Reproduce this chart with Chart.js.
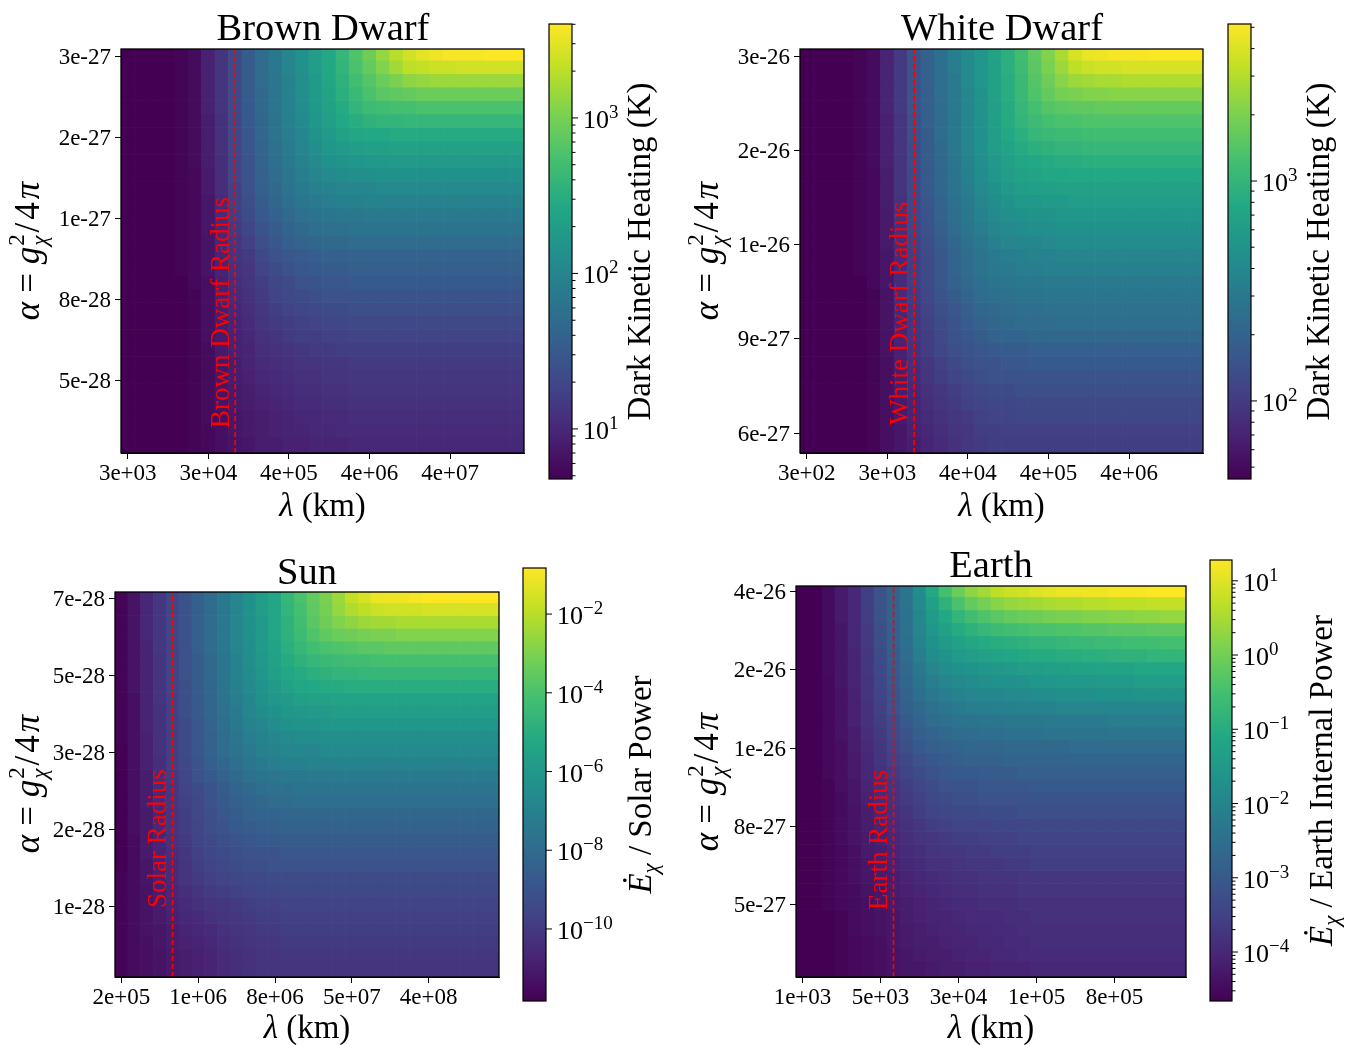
<!DOCTYPE html>
<html>
<head>
<meta charset="utf-8">
<title>Dark heating maps</title>
<script src="https://cdn.jsdelivr.net/npm/chart.js@4"></script>
<style>
  html, body { margin: 0; background: #fff; }
  canvas { position: absolute; }
</style>
</head>
<body>
<script>
// every cell is read off the picture as its height on the log colour bar (0 = bottom, 100 = top)
// rows run top to bottom, columns left to right
var brownHeat = [
[0,0,0,0,1,3,9,15,22,29,35,40,45,50,55,60,66,72,78,84,89,93,96,98,99,99,99,100,100,100],
[0,0,0,0,1,3,9,15,22,29,35,40,45,50,55,60,65,71,76,81,86,90,91,92,92,93,93,93,93,93],
[0,0,0,0,1,3,9,15,22,29,35,39,44,49,54,59,64,69,73,77,80,83,84,85,85,85,85,85,85,85],
[0,0,0,0,1,3,9,15,22,29,34,39,44,49,54,58,63,67,71,74,75,76,77,77,77,77,77,77,77,77],
[0,0,0,0,1,3,9,15,22,28,34,39,43,48,53,57,61,65,68,69,70,70,71,71,71,71,71,71,71,71],
[0,0,0,0,1,3,8,14,21,28,33,38,43,47,52,56,60,62,64,65,65,66,66,66,66,66,66,66,66,66],
[0,0,0,0,1,3,8,14,21,27,33,38,42,46,51,54,57,59,60,60,61,61,61,61,61,61,61,61,61,61],
[0,0,0,0,1,3,8,14,21,27,32,37,41,45,49,52,54,55,56,56,57,57,57,57,57,57,57,57,57,57],
[0,0,0,0,1,3,8,13,20,26,32,36,40,44,47,50,51,52,53,53,54,54,54,54,54,54,54,54,54,54],
[0,0,0,0,1,2,7,13,20,26,31,35,39,42,45,47,48,49,49,50,50,50,50,50,50,50,50,50,50,50],
[0,0,0,0,1,2,7,13,19,25,30,34,38,41,43,44,45,46,46,47,47,47,47,47,47,47,47,47,47,47],
[0,0,0,0,1,2,6,12,19,24,29,33,36,39,41,42,43,43,44,44,44,44,44,44,44,44,44,44,44,44],
[0,0,0,0,1,2,6,12,18,23,28,31,34,37,38,39,40,40,41,41,41,41,41,41,41,41,41,41,41,41],
[0,0,0,0,1,2,6,11,17,21,26,29,32,34,36,37,37,38,38,38,38,38,38,38,38,38,38,38,38,38],
[0,0,0,0,1,2,5,11,16,19,24,27,30,32,33,34,34,35,35,35,35,35,35,35,35,35,35,35,35,35],
[0,0,0,0,1,2,5,10,15,17,22,25,27,29,30,31,31,32,32,32,32,32,32,32,32,32,32,32,32,32],
[0,0,0,0,1,2,5,10,14,16,20,23,25,27,28,29,29,30,30,30,30,30,30,30,30,30,30,30,30,30],
[0,0,0,0,0,2,4,9,13,15,18,21,23,25,26,27,27,28,28,28,28,28,28,28,28,28,28,28,28,28],
[0,0,0,0,0,1,4,9,12,14,17,20,22,23,24,25,25,26,26,26,26,26,26,26,26,26,26,26,26,26],
[0,0,0,0,0,1,4,8,11,13,16,18,20,21,22,23,23,24,24,24,24,24,24,24,24,24,24,24,24,24],
[0,0,0,0,0,1,4,8,10,12,15,17,18,19,20,21,21,22,22,22,22,22,22,22,22,22,22,22,22,22],
[0,0,0,0,0,1,4,7,9,11,14,15,17,18,18,19,19,20,20,20,20,20,20,20,20,20,20,20,20,20],
[0,0,0,0,0,1,3,7,9,10,13,14,15,16,17,17,18,18,18,18,18,18,18,18,18,18,18,18,18,18],
[0,0,0,0,0,1,3,6,8,10,12,13,14,15,15,16,16,17,17,17,17,17,17,17,17,17,17,17,17,17],
[0,0,0,0,0,1,3,6,8,9,11,12,13,14,14,15,15,16,16,16,16,16,16,16,16,16,16,16,16,16],
[0,0,0,0,0,1,3,5,7,8,10,11,12,13,13,14,14,15,15,15,15,15,15,15,15,15,15,15,15,15],
[0,0,0,0,0,1,3,5,7,8,9,10,11,12,12,13,13,14,14,14,14,14,14,14,14,14,14,14,14,14],
[0,0,0,0,0,1,3,4,6,7,8,9,10,11,11,12,12,13,13,13,13,13,13,13,13,13,13,13,13,13],
[0,0,0,0,0,1,2,4,6,7,8,9,10,10,11,11,12,12,12,12,12,12,12,12,12,12,12,12,12,12],
[0,0,0,0,0,1,2,4,5,6,8,8,9,9,10,10,10,11,11,11,11,11,11,11,11,11,11,11,11,11]
];
var whiteHeat = [
[0,0,0,0,1,3,10,17,26,31,36,42,47,52,58,63,69,75,81,87,94,97,98,99,99,99,100,100,100,100],
[0,0,0,0,1,3,10,17,25,31,36,42,47,52,57,63,68,74,80,85,90,92,93,93,94,94,94,94,94,94],
[0,0,0,0,1,3,10,17,25,31,36,41,47,52,57,62,67,73,78,82,85,86,87,87,88,88,88,88,88,88],
[0,0,0,0,1,3,10,17,25,30,36,41,46,51,57,62,67,72,76,79,80,81,81,82,82,82,82,82,82,82],
[0,0,0,0,1,3,10,17,25,30,35,41,46,51,56,61,66,70,73,74,75,75,76,76,76,76,76,76,76,76],
[0,0,0,0,1,3,9,16,24,30,35,40,46,51,56,61,65,68,70,71,71,72,72,72,72,72,72,72,72,72],
[0,0,0,0,1,3,9,16,24,29,35,40,45,50,55,60,63,66,67,68,68,69,69,69,69,69,69,69,69,69],
[0,0,0,0,1,3,9,16,23,29,34,40,45,50,55,58,61,63,64,65,65,66,66,66,66,66,66,66,66,66],
[0,0,0,0,1,3,9,15,23,29,34,39,44,49,53,56,59,60,61,62,62,63,63,63,63,63,63,63,63,63],
[0,0,0,0,1,2,8,15,22,28,33,38,43,48,52,55,57,58,59,59,60,60,60,60,60,60,60,60,60,60],
[0,0,0,0,1,2,8,15,22,28,33,38,42,47,50,53,55,56,56,57,57,57,57,57,57,57,57,57,57,57],
[0,0,0,0,1,2,8,14,21,27,32,37,41,45,48,51,53,53,54,54,55,55,55,55,55,55,55,55,55,55],
[0,0,0,0,1,2,7,14,21,26,31,36,40,44,47,49,50,51,51,52,52,52,52,52,52,52,52,52,52,52],
[0,0,0,0,1,2,7,13,20,25,30,35,39,42,45,47,48,49,49,50,50,50,50,50,50,50,50,50,50,50],
[0,0,0,0,1,2,7,13,19,24,29,33,37,40,43,45,46,46,47,48,48,48,48,48,48,48,48,48,48,48],
[0,0,0,0,1,2,6,12,18,23,27,32,35,38,41,42,43,44,44,45,45,45,45,45,45,45,45,45,45,45],
[0,0,0,0,1,2,6,12,18,23,27,32,35,38,40,41,42,42,43,43,43,43,43,43,43,43,43,43,43,43],
[0,0,0,0,0,2,6,12,18,23,27,31,34,36,38,39,40,40,41,41,41,41,41,41,41,41,41,41,41,41],
[0,0,0,0,0,1,5,12,17,21,25,29,32,35,36,37,38,38,39,39,39,39,39,39,39,39,39,39,39,39],
[0,0,0,0,0,1,5,11,16,20,24,27,30,33,34,35,36,36,37,37,37,37,37,37,37,37,37,37,37,37],
[0,0,0,0,0,1,5,10,15,19,23,26,29,31,33,34,35,35,35,36,36,36,36,36,36,36,36,36,36,36],
[0,0,0,0,0,1,5,10,15,18,22,25,27,29,31,32,32,33,33,33,33,33,33,33,33,33,33,33,33,33],
[0,0,0,0,0,1,5,9,14,18,21,24,26,27,28,29,29,30,30,30,30,30,30,30,30,30,30,30,30,30],
[0,0,0,0,0,1,4,9,13,16,19,22,24,25,26,27,27,28,28,28,28,28,28,28,28,28,28,28,28,28],
[0,0,0,0,0,1,4,8,12,15,18,20,22,24,25,25,26,26,26,26,26,26,26,26,26,26,26,26,26,26],
[0,0,0,0,0,1,4,8,11,14,16,18,20,22,23,23,24,24,24,24,24,24,24,24,24,24,24,24,24,24],
[0,0,0,0,0,1,4,7,10,13,15,17,19,20,21,21,22,22,22,22,22,22,22,22,22,22,22,22,22,22],
[0,0,0,0,0,1,4,7,10,12,14,16,17,19,20,20,21,21,21,21,21,21,21,21,21,21,21,21,21,21],
[0,0,0,0,0,1,4,6,9,11,13,15,16,18,18,19,19,19,19,19,19,19,19,19,19,19,19,19,19,19],
[0,0,0,0,0,1,4,6,8,10,12,14,16,17,18,18,18,18,18,18,18,18,18,18,18,18,18,18,18,18]
];
var sunHeat = [
[1,5,11,16,21,26,30,35,40,45,50,55,59,66,71,76,80,85,91,94,97,98,98,99,100,100,100,100,100,100],
[1,5,11,16,21,26,30,35,40,45,50,55,59,65,70,75,79,84,88,90,92,93,93,93,94,94,94,94,94,94],
[1,5,11,16,21,26,30,35,40,45,50,54,59,64,69,74,78,81,83,85,86,86,87,87,87,87,87,87,87,87],
[1,5,11,16,21,25,30,35,40,45,50,54,59,64,68,72,75,77,78,79,80,80,81,81,81,81,81,81,81,81],
[1,5,10,16,20,25,30,35,40,45,49,54,58,63,66,69,71,72,73,74,74,75,75,75,75,75,75,75,75,75],
[1,5,10,15,20,25,29,34,39,44,49,53,57,61,64,66,67,68,69,69,70,70,70,70,70,70,70,70,70,70],
[1,5,10,15,20,25,29,34,39,44,48,52,56,59,61,63,64,65,65,66,66,66,66,66,66,66,66,66,66,66],
[1,5,10,15,20,24,29,33,38,43,47,51,54,57,59,60,61,61,62,62,62,62,62,62,62,62,62,62,62,62],
[1,4,10,15,19,24,28,33,38,42,46,50,52,54,56,57,57,58,58,58,58,58,58,58,58,58,58,58,58,58],
[1,4,10,14,19,24,28,33,37,41,45,48,50,52,53,54,54,55,55,55,55,55,55,55,55,55,55,55,55,55],
[1,4,10,14,19,23,27,32,36,40,44,46,48,50,51,51,52,52,52,52,52,52,52,52,52,52,52,52,52,52],
[1,4,9,14,18,23,27,31,35,39,42,44,46,47,48,48,49,49,49,49,49,49,49,49,49,49,49,49,49,49],
[0,4,9,14,18,23,27,31,35,38,41,43,44,45,46,46,47,47,47,47,47,47,47,47,47,47,47,47,47,47],
[0,4,9,13,18,22,26,30,33,36,39,41,42,43,43,44,44,44,44,44,44,44,44,44,44,44,44,44,44,44],
[0,4,8,13,17,21,25,28,31,34,37,38,39,40,40,41,41,41,41,41,41,41,41,41,41,41,41,41,41,41],
[0,4,8,12,16,20,23,26,29,32,34,36,37,37,38,38,38,38,38,38,38,38,38,38,38,38,38,38,38,38],
[0,4,8,12,16,19,22,25,28,30,32,34,35,35,36,36,36,36,36,36,36,36,36,36,36,36,36,36,36,36],
[0,4,7,11,15,18,22,24,27,29,31,32,32,33,33,33,33,33,33,33,33,33,33,33,33,33,33,33,33,33],
[0,4,7,11,15,18,21,24,26,28,29,30,30,31,31,31,31,31,31,31,31,31,31,31,31,31,31,31,31,31],
[0,3,7,10,14,17,20,22,24,26,27,28,28,29,29,29,29,29,29,29,29,29,29,29,29,29,29,29,29,29],
[0,3,7,10,13,16,19,21,23,24,25,26,26,27,27,27,27,27,27,27,27,27,27,27,27,27,27,27,27,27],
[0,3,6,9,12,15,18,20,22,23,24,24,25,25,25,25,25,25,25,25,25,25,25,25,25,25,25,25,25,25],
[1,3,6,9,12,15,17,19,20,21,22,22,23,23,23,23,23,23,23,23,23,23,23,23,23,23,23,23,23,23],
[1,3,5,8,11,13,15,17,18,19,20,21,21,22,22,22,22,22,22,22,22,22,22,22,22,22,22,22,22,22],
[1,3,5,7,10,12,14,15,16,17,18,19,19,20,20,20,20,20,20,20,20,20,20,20,20,20,20,20,20,20],
[1,3,5,7,9,11,12,14,15,16,17,18,18,19,19,19,19,19,19,19,19,19,19,19,19,19,19,19,19,19],
[1,3,5,6,8,10,11,12,14,15,16,17,17,18,18,18,18,18,18,18,18,18,18,18,18,18,18,18,18,18],
[1,3,4,6,8,9,10,11,13,14,15,16,16,17,17,17,17,17,17,17,17,17,17,17,17,17,17,17,17,17],
[1,3,4,5,7,8,9,10,12,13,14,15,15,16,16,16,16,16,16,16,16,16,16,16,16,16,16,16,16,16],
[1,3,4,5,7,8,9,10,12,13,14,15,15,15,15,15,15,15,15,15,15,15,15,15,15,15,15,15,15,15]
];
var earthHeat = [
[0,0,3,7,11,18,25,31,38,48,60,70,77,83,86,90,92,93,95,96,97,97,98,98,99,99,99,100,100,100],
[0,0,3,7,11,18,25,31,38,47,56,64,71,76,79,82,84,85,86,87,88,88,89,89,90,90,90,91,91,91],
[0,0,3,7,11,18,25,31,37,46,54,60,65,69,72,74,76,77,78,79,80,80,81,81,82,82,83,83,84,84],
[0,0,3,6,11,17,24,30,37,45,52,57,61,64,66,68,69,70,71,71,72,72,73,73,74,74,74,75,75,75],
[0,0,3,6,11,17,24,30,36,44,50,54,57,59,61,62,63,64,65,65,66,67,67,68,68,69,69,69,70,70],
[0,0,3,6,10,16,23,29,35,42,48,51,54,55,57,58,59,60,61,61,62,62,63,63,64,64,64,65,65,65],
[0,0,3,6,10,16,22,28,34,40,45,48,50,51,52,53,54,55,55,56,56,57,57,58,58,58,59,59,59,59],
[0,0,2,6,10,15,21,27,33,38,42,45,47,48,49,50,50,51,52,52,53,53,53,54,54,54,55,55,55,55],
[0,0,2,5,9,15,20,26,31,36,40,42,44,45,46,46,47,47,48,48,49,49,49,50,50,50,51,51,51,51],
[0,0,2,5,9,14,19,25,30,34,37,39,41,42,42,43,43,44,44,44,45,45,45,45,46,46,46,46,46,46],
[0,0,2,5,9,14,18,23,28,32,35,36,38,38,39,39,40,40,40,41,41,41,41,41,42,42,42,42,42,42],
[0,0,2,5,8,13,17,22,26,30,32,34,35,35,36,36,37,37,37,38,38,38,38,38,39,39,39,39,39,39],
[0,0,2,4,8,12,16,20,24,28,30,31,32,33,33,33,34,34,34,34,34,35,35,35,35,35,35,35,35,35],
[0,0,2,4,7,11,15,19,22,25,27,29,30,31,31,31,32,32,32,32,32,32,32,32,32,32,32,32,32,32],
[0,0,2,4,7,11,14,17,20,23,25,27,28,28,29,29,29,30,30,30,30,30,30,30,30,30,30,30,30,30],
[0,0,1,4,6,10,13,15,18,21,23,25,26,26,27,27,27,27,28,28,28,28,28,28,28,28,28,28,28,28],
[0,0,1,3,6,9,12,14,17,19,22,23,24,24,25,25,25,26,26,26,26,26,26,26,26,26,26,26,26,26],
[0,0,1,3,5,8,11,13,15,18,20,21,22,22,23,23,23,24,24,24,24,24,24,24,24,24,24,24,24,24],
[0,0,1,3,5,8,10,12,14,16,18,19,20,20,20,21,21,21,22,22,22,22,22,22,22,22,22,22,22,22],
[0,0,1,3,5,7,9,11,13,15,16,17,18,18,19,19,19,20,20,20,20,20,20,20,20,20,20,20,20,20],
[0,0,1,2,4,7,8,10,12,13,15,16,16,17,17,18,18,18,19,19,19,19,19,19,19,19,19,19,19,19],
[0,0,1,2,4,6,8,9,11,12,14,14,15,16,16,16,17,17,18,18,18,18,18,18,18,18,18,18,18,18],
[0,0,1,2,4,6,7,8,10,11,12,13,14,14,15,15,15,16,16,16,16,16,16,16,16,16,16,16,16,16],
[0,0,1,2,3,5,6,8,9,10,11,12,13,13,14,14,14,15,15,15,15,15,15,15,15,15,15,15,15,15],
[0,0,1,2,3,4,6,7,8,9,10,11,12,12,13,13,13,14,14,14,14,14,14,14,14,14,14,14,14,14],
[0,0,0,1,3,4,5,6,8,9,10,10,11,12,12,12,13,13,14,14,14,14,14,14,14,14,14,14,14,14],
[0,0,0,1,3,4,5,6,7,8,9,10,10,11,11,12,12,13,13,13,13,13,13,13,13,13,13,13,13,13],
[0,0,0,1,2,3,4,6,7,8,8,9,10,10,11,11,12,12,13,13,13,13,13,13,13,13,13,13,13,13],
[0,0,0,1,2,3,4,5,6,7,8,8,9,10,10,11,11,12,12,12,12,12,12,12,12,12,12,12,12,12],
[0,0,0,1,2,3,4,5,6,6,7,8,8,9,9,10,10,10,11,11,11,11,11,11,11,11,11,11,11,11]
];

var brownXTicks = ['3e+03', '3e+04', '4e+05', '4e+06', '4e+07'];
var brownYTicks = ['5e-28', '8e-28', '1e-27', '2e-27', '3e-27'];
var brownYRows = [5.25, 11.25, 17.25, 23.25, 29.25];
var whiteXTicks = ['3e+02', '3e+03', '4e+04', '4e+05', '4e+06'];
var whiteYTicks = ['6e-27', '9e-27', '1e-26', '2e-26', '3e-26'];
var whiteYRows = [1.3, 8.3, 15.3, 22.3, 29.3];
var sunXTicks = ['2e+05', '1e+06', '8e+06', '5e+07', '4e+08'];
var sunYTicks = ['1e-28', '2e-28', '3e-28', '5e-28', '7e-28'];
var sunYRows = [5.3, 11.3, 17.3, 23.3, 29.3];
var earthXTicks = ['1e+03', '5e+03', '3e+04', '1e+05', '8e+05'];
var earthYTicks = ['5e-27', '8e-27', '1e-26', '2e-26', '4e-26'];
var earthYRows = [5.4, 11.4, 17.4, 23.4, 29.4];

// colour bar ranges as log10 of the ends, and the decades that get a label
var brownBar = [0.678, 3.604];
var brownDecades = [1, 2, 3];
var whiteBar = [1.645, 3.714];
var whiteDecades = [2, 3];
var sunBar = [-11.83, -0.83];
var sunDecades = [-10, -8, -6, -4, -2];
var earthBar = [-4.66, 1.28];
var earthDecades = [-4, -3, -2, -1, 0, 1];

var viridis = ['#440154', '#482475', '#414487', '#355f8d', '#2a788e', '#21918c', '#22a884', '#44bf70', '#7ad151', '#bddf26', '#fde725'];
var serif = '"Liberation Serif", serif';
var ROW_SHIFT = 0.17;

function hexRgb(h) {
  return [parseInt(h.substr(1, 2), 16), parseInt(h.substr(3, 2), 16), parseInt(h.substr(5, 2), 16)];
}
function heatColor(p) {
  var t = Math.min(p, 100) / 10;
  var i = Math.min(Math.floor(t), 9);
  var a = hexRgb(viridis[i]), b = hexRgb(viridis[i + 1]);
  var f = t - i;
  return 'rgb(' + Math.round(a[0] + (b[0] - a[0]) * f) + ',' + Math.round(a[1] + (b[1] - a[1]) * f) + ',' + Math.round(a[2] + (b[2] - a[2]) * f) + ')';
}

// draws a row of mixed-style text pieces, centred on (x, y)
function drawRuns(ctx, runs, x, y, rotated, color) {
  ctx.save();
  ctx.translate(x, y);
  if (rotated) ctx.rotate(-Math.PI / 2);
  ctx.fillStyle = color || '#000';
  ctx.textBaseline = 'alphabetic';
  ctx.textAlign = 'left';
  var total = 0;
  runs.forEach(function(r) {
    ctx.font = (r.italic ? 'italic ' : '') + r.size + 'px ' + serif;
    r.w = ctx.measureText(r.text).width + (r.gap || 0);
    if (!r.still) total += r.w;
  });
  var pos = -total / 2;
  runs.forEach(function(r) {
    ctx.font = (r.italic ? 'italic ' : '') + r.size + 'px ' + serif;
    ctx.fillText(r.text, pos, r.dy || 0);
    if (!r.still) pos += r.w;
  });
  ctx.restore();
}

function alphaRuns() {
  return [
    {text: 'α', italic: true, size: 35, gap: 9},
    {text: '=', size: 35, gap: 9},
    {text: 'g', italic: true, size: 35, gap: 1},
    {text: '2', size: 23, dy: -15, still: true},
    {text: 'χ', italic: true, size: 23, dy: 8, gap: 3},
    {text: '/', size: 35, gap: 3},
    {text: '4', size: 35, gap: 3},
    {text: 'π', italic: true, size: 35}
  ];
}
function lambdaRuns() {
  return [{text: 'λ', italic: true, size: 33}, {text: ' (km)', size: 33}];
}
function powerRuns(name) {
  return [
    {text: 'Ė', italic: true, size: 33},
    {text: 'χ', italic: true, size: 23, dy: 7},
    {text: ' / ' + name, size: 33}
  ];
}

var textPlugin = {
  id: 'panelText',
  afterDraw: function(chart, args, opts) {
    var ctx = chart.ctx, a = chart.chartArea;
    ctx.save();
    ctx.strokeStyle = '#000';
    ctx.lineWidth = 1.3;
    ctx.strokeRect(a.left, a.top, a.right - a.left, a.bottom - a.top);
    ctx.restore();
    var p = opts.panel;
    ctx.save();
    ctx.font = '38.5px ' + serif;
    ctx.fillStyle = '#000';
    ctx.textAlign = 'center';
    ctx.fillText(p.title, p.titleX - p.x0, p.titleY - p.y0);
    ctx.restore();
    drawRuns(ctx, lambdaRuns(), (a.left + a.right) / 2, p.xLabelY - p.y0, false);
    drawRuns(ctx, alphaRuns(), p.yLabelX - p.x0, p.yLabelY - p.y0, true);
    // name of the radius line, sitting just left of it
    var lx = chart.scales.xRadius.getPixelForValue(p.radiusCol);
    ctx.save();
    ctx.translate(lx - 6.5, a.bottom - p.nameLift);
    ctx.rotate(-Math.PI / 2);
    ctx.font = '27px ' + serif;
    ctx.fillStyle = 'red';
    ctx.fillText(p.radiusName, 0, 0);
    ctx.restore();
  }
};

var barPlugin = {
  id: 'barTicks',
  afterDraw: function(chart, args, opts) {
    var ctx = chart.ctx, a = chart.chartArea, s = chart.scales.y, b = opts.bar;
    ctx.save();
    ctx.strokeStyle = '#000';
    ctx.lineWidth = 1.2;
    ctx.strokeRect(a.left, a.top, a.right - a.left, a.bottom - a.top);
    ctx.lineWidth = 1;
    if (b.minor) {
      for (var d = Math.floor(b.range[0]); d <= b.range[1]; d++) {
        for (var m = 2; m < 10; m++) {
          var v = m * Math.pow(10, d);
          if (v < s.min || v > s.max) continue;
          var my = s.getPixelForValue(v);
          ctx.beginPath(); ctx.moveTo(a.right, my); ctx.lineTo(a.right + 3.5, my); ctx.stroke();
        }
      }
    }
    b.decades.forEach(function(d) {
      var y = s.getPixelForValue(Math.pow(10, d));
      ctx.beginPath(); ctx.moveTo(a.right, y); ctx.lineTo(a.right + 6, y); ctx.stroke();
      ctx.fillStyle = '#000';
      ctx.textBaseline = 'alphabetic';
      ctx.font = '26px ' + serif;
      ctx.fillText('10', a.right + 11, y + 10);
      var w = ctx.measureText('10').width;
      ctx.font = '19px ' + serif;
      ctx.fillText((d < 0 ? '−' : '') + Math.abs(d), a.right + 11 + w, y);
    });
    ctx.restore();
    var mid = (a.top + a.bottom) / 2;
    drawRuns(ctx, b.labelRuns, b.labelX - b.x0, mid + (b.labelShift || 0), true);
  }
};

function addCanvas(x, y, w, h) {
  var c = document.createElement('canvas');
  c.width = w;
  c.height = h;
  c.style.left = x + 'px';
  c.style.top = y + 'px';
  c.style.width = w + 'px';
  c.style.height = h + 'px';
  document.body.appendChild(c);
  return c;
}

function drawPanel(p) {
  var w = p.x1 - p.x0, h = p.y1 - p.y0;
  var canvas = addCanvas(p.x0, p.y0, w, h);
  var nRows = p.heat.length, nCols = p.heat[0].length;
  var labels = [];
  for (var i = 0; i < nCols; i++) labels.push(i % 6 === 0 ? p.xTicks[i / 6] : '');
  var datasets = p.heat.map(function(row, i) {
    var fromBottom = nRows - 1 - i;
    var lo = fromBottom === 0 ? -1 : fromBottom;
    return {
      data: row.map(function() { return [lo, fromBottom + 1]; }),
      backgroundColor: row.map(heatColor),
      grouped: false,
      barPercentage: 1,
      categoryPercentage: 1,
      borderWidth: 0
    };
  });
  datasets.push({
    type: 'line',
    xAxisID: 'xRadius',
    data: [{x: p.radiusCol, y: -ROW_SHIFT}, {x: p.radiusCol, y: nRows - ROW_SHIFT}],
    borderColor: 'red',
    borderWidth: 1.6,
    borderDash: [5, 3],
    pointRadius: 0,
    order: -1
  });
  new Chart(canvas, {
    type: 'bar',
    data: {labels: labels, datasets: datasets},
    options: {
      responsive: false,
      animation: false,
      events: [],
      layout: {autoPadding: false, padding: {top: p.top - p.y0, right: p.x1 - p.right, left: 0, bottom: 0}},
      plugins: {legend: {display: false}, tooltip: {enabled: false}, panelText: {panel: p}},
      scales: {
        x: {
          grid: {offset: false, drawOnChartArea: false, tickLength: 6, tickWidth: 1, tickColor: '#000'},
          border: {color: '#000'},
          ticks: {autoSkip: false, maxRotation: 0, minRotation: 0, padding: 1, color: '#000', font: {family: serif, size: 23}},
          afterBuildTicks: function(s) {
            s.ticks = s.ticks.filter(function(t) { return t.value % 6 === 0; });
          },
          afterFit: function(s) { s.height = p.y1 - p.bottom; }
        },
        xRadius: {type: 'linear', display: false, offset: false, min: -0.5, max: nCols - 0.5},
        y: {
          type: 'linear',
          stacked: false,
          min: -ROW_SHIFT,
          max: nRows - ROW_SHIFT,
          grid: {drawOnChartArea: false, tickLength: 6, tickWidth: 1, tickColor: '#000'},
          border: {color: '#000'},
          ticks: {
            padding: 4,
            labelOffset: 1.5,
            color: '#000',
            font: {family: serif, size: 23},
            callback: function(v) {
              var k = p.yRows.indexOf(v);
              return k < 0 ? '' : p.yTicks[k];
            }
          },
          afterBuildTicks: function(s) {
            s.ticks = p.yRows.map(function(v) { return {value: v}; });
          },
          afterFit: function(s) { s.width = p.left - p.x0; }
        }
      }
    },
    plugins: [textPlugin]
  });
}

function drawBar(b) {
  var w = b.x1 - b.x0, h = b.y1 - b.y0;
  var canvas = addCanvas(b.x0, b.y0, w, h);
  var lo = Math.pow(10, b.range[0]), hi = Math.pow(10, b.range[1]);
  new Chart(canvas, {
    type: 'bar',
    data: {
      labels: [''],
      datasets: [{
        data: [[lo, hi]],
        barPercentage: 1,
        categoryPercentage: 1,
        backgroundColor: function(ctx) {
          var a = ctx.chart.chartArea;
          if (!a) return viridis[0];
          var g = ctx.chart.ctx.createLinearGradient(0, a.bottom, 0, a.top);
          viridis.forEach(function(c, i) { g.addColorStop(i / 10, c); });
          return g;
        }
      }]
    },
    options: {
      responsive: false,
      animation: false,
      events: [],
      layout: {autoPadding: false, padding: {top: b.top - b.y0, left: b.left - b.x0, bottom: b.y1 - b.bottom, right: 0}},
      plugins: {legend: {display: false}, tooltip: {enabled: false}, barTicks: {bar: b}},
      scales: {
        x: {display: false},
        y: {
          type: 'logarithmic',
          position: 'right',
          min: lo,
          max: hi,
          grid: {display: false},
          border: {display: false},
          ticks: {display: false},
          afterFit: function(s) { s.width = b.x1 - b.right; }
        }
      }
    },
    plugins: [barPlugin]
  });
}

drawPanel({x0: 0, x1: 536, y0: 0, y1: 530, left: 121, right: 524, top: 49, bottom: 453,
  heat: brownHeat, xTicks: brownXTicks, yTicks: brownYTicks, yRows: brownYRows, radiusCol: 8,
  radiusName: 'Brown Dwarf Radius', nameLift: 25, title: 'Brown Dwarf', titleX: 323, titleY: 40,
  xLabelY: 516, yLabelX: 39, yLabelY: 251});
drawBar({x0: 536, x1: 680, y0: 0, y1: 530, left: 549, right: 572, top: 24, bottom: 479,
  range: brownBar, decades: brownDecades, minor: true, labelX: 650,
  labelRuns: [{text: 'Dark Kinetic Heating (K)', size: 33}]});

drawPanel({x0: 680, x1: 1215, y0: 0, y1: 530, left: 800, right: 1203, top: 49, bottom: 453,
  heat: whiteHeat, xTicks: whiteXTicks, yTicks: whiteYTicks, yRows: whiteYRows, radiusCol: 8,
  radiusName: 'White Dwarf Radius', nameLift: 28, title: 'White Dwarf', titleX: 1002, titleY: 40,
  xLabelY: 516, yLabelX: 718, yLabelY: 251});
drawBar({x0: 1215, x1: 1349, y0: 0, y1: 530, left: 1228, right: 1251, top: 24, bottom: 479,
  range: whiteBar, decades: whiteDecades, minor: true, labelX: 1329,
  labelRuns: [{text: 'Dark Kinetic Heating (K)', size: 33}]});

drawPanel({x0: 0, x1: 511, y0: 530, y1: 1045, left: 115, right: 499, top: 592, bottom: 977,
  heat: sunHeat, xTicks: sunXTicks, yTicks: sunYTicks, yRows: sunYRows, radiusCol: 4,
  radiusName: 'Solar Radius', nameLift: 69, title: 'Sun', titleX: 307, titleY: 584,
  xLabelY: 1038, yLabelX: 39, yLabelY: 784});
drawBar({x0: 511, x1: 680, y0: 530, y1: 1045, left: 523, right: 546, top: 568, bottom: 1001,
  range: sunBar, decades: sunDecades, minor: false, labelX: 651,
  labelRuns: powerRuns('Solar Power')});

drawPanel({x0: 680, x1: 1198, y0: 530, y1: 1045, left: 796, right: 1186, top: 586, bottom: 977,
  heat: earthHeat, xTicks: earthXTicks, yTicks: earthYTicks, yRows: earthYRows, radiusCol: 7,
  radiusName: 'Earth Radius', nameLift: 67, title: 'Earth', titleX: 991, titleY: 577,
  xLabelY: 1038, yLabelX: 718, yLabelY: 782});
drawBar({x0: 1198, x1: 1349, y0: 530, y1: 1045, left: 1210, right: 1232, top: 560, bottom: 1001,
  range: earthBar, decades: earthDecades, minor: true, labelX: 1332,
  labelRuns: powerRuns('Earth Internal Power')});
</script>
</body>
</html>
